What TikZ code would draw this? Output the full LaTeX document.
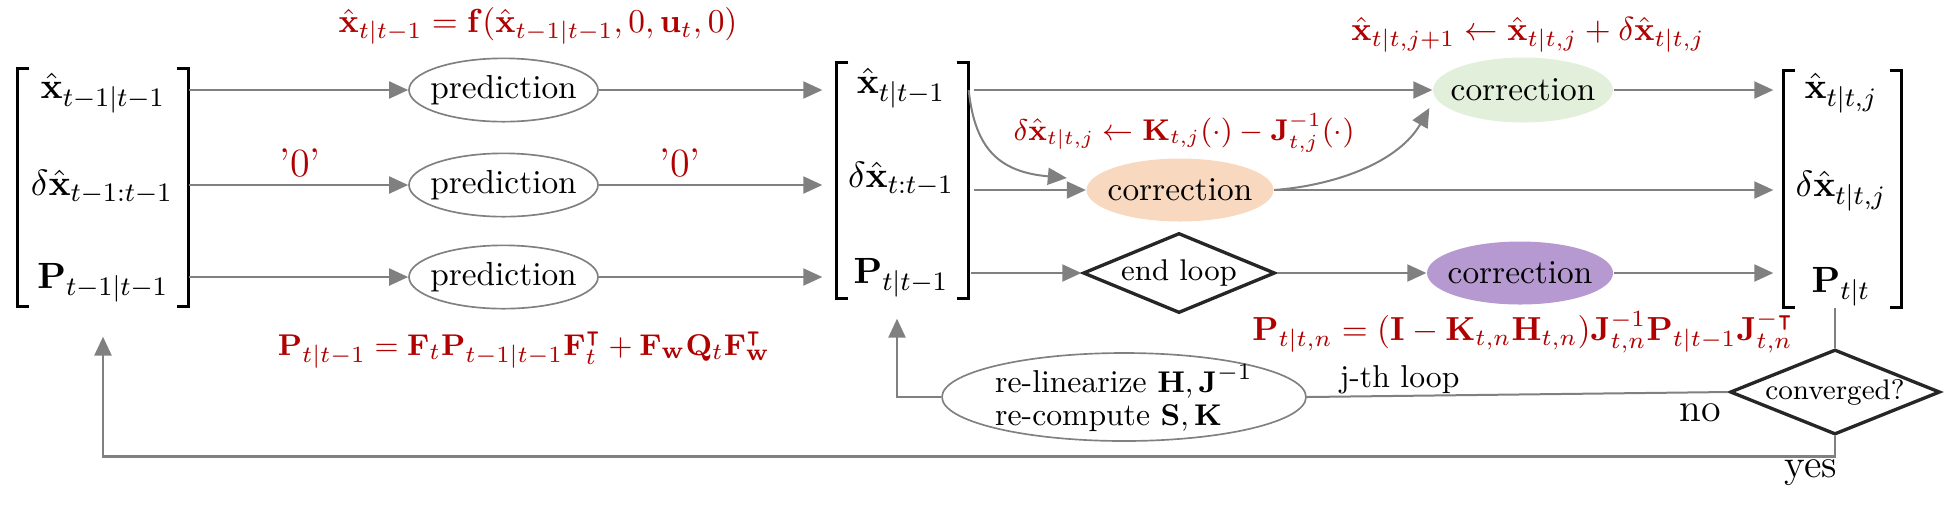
\documentclass[tikz,border=0pt]{standalone}
\usepackage{amsmath,amssymb}
\usetikzlibrary{arrows.meta,shapes.geometric}
\definecolor{arrgray}{RGB}{128,128,128}
\definecolor{fred}{RGB}{176,0,0}
\definecolor{cgreen}{RGB}{226,239,218}
\definecolor{corange}{RGB}{248,216,190}
\definecolor{cpurple}{RGB}{182,153,208}
\newcommand\cz[1]{\hbox to 0pt{\hss#1\hss}}
\tikzset{
  conn/.style={draw=arrgray, line width=0.6pt, -{Triangle[length=5.7pt,width=5.1pt]}},
  plainline/.style={draw=arrgray, line width=0.6pt},
  loopline/.style={draw=arrgray, line width=0.8pt, -{Triangle[length=5.7pt,width=5.1pt]}},
  predbox/.style={ellipse, draw=arrgray, line width=0.5pt, minimum width=56.7pt, minimum height=19pt, inner sep=0pt},
  corrbox/.style={ellipse, draw=none, minimum height=18.9pt, inner sep=0pt},
  decbox/.style={diamond, draw=black!85, line width=1pt, inner sep=0pt},
  brk/.style={draw=black, line width=0.9pt},
  matbox/.style={rectangle, draw=none, inner sep=0pt},
  entry/.style={inner sep=1pt, font=\fontsize{11}{13}\selectfont},
  formula/.style={text=fred, inner sep=0pt},
  zerolbl/.style={text=fred, font=\large, inner sep=0pt},
  bigtxt/.style={font=\large, inner sep=0pt}
}
\begin{document}
\begin{tikzpicture}[x=0.3pt,y=-0.3pt]
\useasboundingbox (0,0) rectangle (1948,504);

% ---- left state ----
\node[matbox, minimum width=51pt, minimum height=71.1pt] (L) at (103,187.5) {};
\node[entry] (l1) at (103,93) {$\hat{\mathbf{x}}_{t-1|t-1}$};
\node[entry] (l2) at (102,187) {$\delta\hat{\mathbf{x}}_{t-1:t-1}$};
\node[entry] (l3) at (103,283) {$\mathbf{P}_{t-1|t-1}$};
\draw[brk] ([xshift=3.6pt]L.north west) -- (L.north west) -- (L.south west) -- ([xshift=3.6pt]L.south west);
\draw[brk] ([xshift=-3.6pt]L.north east) -- (L.north east) -- (L.south east) -- ([xshift=-3.6pt]L.south east);

% ---- predictions ----
\node[predbox] (p1) at (503.5,90) {\cz{prediction}};
\node[predbox] (p2) at (503.5,185) {\cz{prediction}};
\node[predbox] (p3) at (503.5,277) {\cz{prediction}};

% ---- middle state ----
\node[matbox, minimum width=39.3pt, minimum height=70.5pt] (M) at (902.5,180.5) {};
\node[entry] (m1) at (901,88) {$\hat{\mathbf{x}}_{t|t-1}$};
\node[entry] (m2) at (901,179) {$\delta\hat{\mathbf{x}}_{t:t-1}$};
\node[entry] (m3) at (901,278) {$\mathbf{P}_{t|t-1}$};
\draw[brk] ([xshift=3.6pt]M.north west) -- (M.north west) -- (M.south west) -- ([xshift=3.6pt]M.south west);
\draw[brk] ([xshift=-3.6pt]M.north east) -- (M.north east) -- (M.south east) -- ([xshift=-3.6pt]M.south east);

% ---- corrections ----
\node[corrbox, fill=cgreen, minimum width=54pt, minimum height=19.5pt] (g) at (1523,90) {\cz{correction}};
\node[corrbox, fill=corange, minimum width=56.1pt] (o) at (1180,190) {\cz{correction}};
\node[decbox, minimum width=57.6pt, minimum height=24pt] (e) at (1179,273) {\cz{\small end loop}};
\node[corrbox, fill=cpurple, minimum width=55.8pt] (pc) at (1520,273) {\cz{correction}};

% ---- right state ----
\node[matbox, minimum width=35.1pt, minimum height=70.8pt] (R) at (1842.5,189) {};
\node[entry] (r1) at (1841,93) {$\hat{\mathbf{x}}_{t|t,j}$};
\node[entry] (r2) at (1841,191) {$\delta\hat{\mathbf{x}}_{t|t,j}$};
\node[entry] (r3) at (1841,287) {$\mathbf{P}_{t|t}$};
\draw[brk] ([xshift=3.6pt]R.north west) -- (R.north west) -- (R.south west) -- ([xshift=3.6pt]R.south west);
\draw[brk] ([xshift=-3.6pt]R.north east) -- (R.north east) -- (R.south east) -- ([xshift=-3.6pt]R.south east);

% ---- loop nodes ----
\node[decbox, minimum width=63pt, minimum height=25.5pt] (c) at (1835,392) {\cz{\fontsize{8.5}{10}\selectfont converged?}};
\node[ellipse, draw=arrgray, line width=0.5pt, minimum width=109.2pt, minimum height=26.4pt, inner sep=0pt] (rl) at (1124,397)
  {\cz{\smash{\raisebox{-3.3pt}{\fontsize{9.5}{11}\selectfont\begin{tabular}{@{}l@{}}re-linearize $\mathbf{H},\mathbf{J}^{-1}$\\[-1pt]re-compute $\mathbf{S},\mathbf{K}$\end{tabular}}}}};

% ---- formulas ----
\node[formula, font=\fontsize{10.1}{12}\selectfont] (f1) at (538,26) {$\hat{\mathbf{x}}_{t|t-1} = \mathbf{f}(\hat{\mathbf{x}}_{t-1|t-1}, 0, \mathbf{u}_t, 0)$};
\node[formula, font=\fontsize{9.5}{11}\selectfont] (f2) at (524,350) {$\mathbf{P}_{t|t-1} = \mathbf{F}_t\mathbf{P}_{t-1|t-1}\mathbf{F}_t^{\intercal} + \mathbf{F}_{\mathbf{w}}\mathbf{Q}_t\mathbf{F}_{\mathbf{w}}^{\intercal}$};
\node[formula, font=\fontsize{9}{11}\selectfont] (f3) at (1184,133) {$\delta\hat{\mathbf{x}}_{t|t,j} \leftarrow \mathbf{K}_{t,j}(\cdot) - \mathbf{J}^{-1}_{t,j}(\cdot)$};
\node[formula] (f4) at (1528,35) {$\hat{\mathbf{x}}_{t|t,j+1} \leftarrow \hat{\mathbf{x}}_{t|t,j} + \delta\hat{\mathbf{x}}_{t|t,j}$};
\node[formula, font=\fontsize{9.7}{12}\selectfont] (f5) at (1523,332) {$\mathbf{P}_{t|t,n} = (\mathbf{I} - \mathbf{K}_{t,n}\mathbf{H}_{t,n})\mathbf{J}^{-1}_{t,n}\mathbf{P}_{t|t-1}\mathbf{J}^{-\intercal}_{t,n}$};
\node[zerolbl] (z1) at (300,163) {'0'};
\node[zerolbl] (z2) at (680,163) {'0'};
\node[bigtxt] (no) at (1700,413) {no};
\node[bigtxt] (yes) at (1811,473) {yes};

% ---- connectors ----
\draw[conn] (L.east |- p1) -- (p1);
\draw[conn] (L.east |- p2) -- (p2);
\draw[conn] (L.east |- p3) -- (p3);
\draw[conn, shorten >=4.2pt] (p1) -- (M.west |- p1);
\draw[conn, shorten >=4.2pt] (p2) -- (M.west |- p2);
\draw[conn, shorten >=4.2pt] (p3) -- (M.west |- p3);

\draw[conn, shorten <=1.5pt] (M.east |- g) -- (g);
\draw[conn] (M.east |- g) .. controls (975,150) and (1000,172) .. ([shift={(-5.7pt,3.6pt)}]o.west);
\draw[conn, shorten <=1.5pt] (M.east |- o) -- (o);
\draw[conn, shorten <=0.6pt] (M.east |- e) -- (e);

\draw[conn] (o.east) .. controls (1340,185) and (1400,160) .. ([shift={(-0.9pt,-5.4pt)}]g.west);
\draw[conn, shorten >=3pt] (o) -- (R.west |- o);
\draw[conn] (e) -- (pc);
\draw[conn, shorten >=3pt] (g) -- (R.west |- g);
\draw[conn, shorten >=3pt] (pc) -- (R.west |- pc);

\draw[plainline] (c.north |- R.south) -- (c.north);
\draw[plainline] (c.west) -- (rl.east) node[pos=0.78, yshift=4.8pt, font=\fontsize{9.5}{11}\selectfont] (jl) {j-th loop};
\draw[loopline] (rl.west) -| ([xshift=-1.65pt,yshift=-6pt]M.south);
\draw[loopline] (c.south) -- ++(0,20) -| ([yshift=-9pt]L.south);
\end{tikzpicture}
\end{document}
